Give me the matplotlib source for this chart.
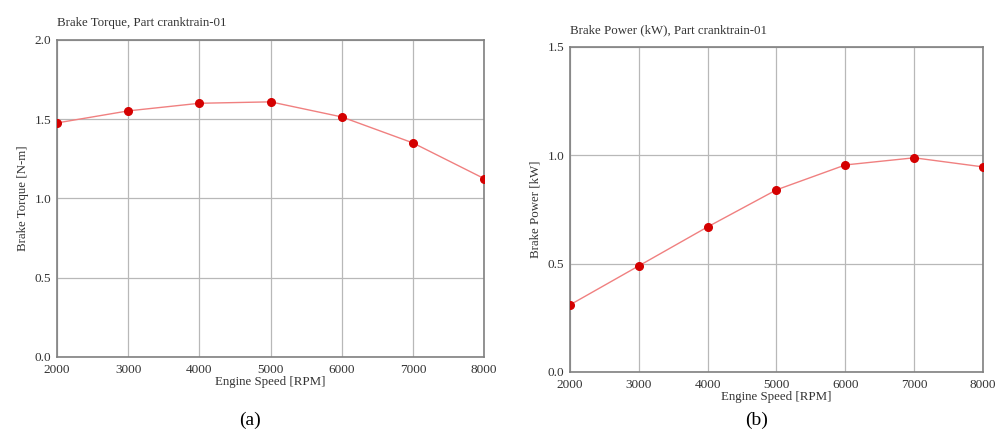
import matplotlib
matplotlib.use("Agg")
import matplotlib.pyplot as plt

plt.rcParams['font.family'] = ['Liberation Serif', 'DejaVu Serif']

# ----------------------------------- DATA ----------------------------------- #
rpm = [2000, 3000, 4000, 5000, 6000, 7000, 8000]
torque = [1.476, 1.552, 1.600, 1.609, 1.514, 1.350, 1.125]
power = [0.309, 0.489, 0.669, 0.840, 0.955, 0.988, 0.946]

torque_ticks = [0.0, 0.5, 1.0, 1.5, 2.0]
power_ticks = [0.0, 0.5, 1.0, 1.5]


def style_panel(ax, ydata, yticks, title, ylabel):
    ax.plot(rpm, ydata, color="#f08080", lw=1.0, zorder=3)
    ax.plot(rpm, ydata, "o", color="#d40000", ms=5.5, zorder=4)
    ax.set_xlim(2000, 8000)
    ax.set_ylim(yticks[0], yticks[-1])
    ax.set_xticks(rpm)
    ax.set_yticks(yticks)
    ax.set_yticklabels([f"{v:.1f}" for v in yticks])
    ax.grid(True, color="#b8b8b8", lw=0.9)
    for s in ax.spines.values():
        s.set_color("#808080")
        s.set_linewidth(1.2)
    ax.tick_params(length=0, labelsize=9.5, colors="#333333")
    ax.tick_params(axis="y", pad=4)
    ax.tick_params(axis="x", pad=5)
    ax.set_xlabel("Engine Speed [RPM]", fontsize=9.3, labelpad=0, color="#333333")
    ax.set_ylabel(ylabel, fontsize=9.3, color="#333333")
    ax.set_title(title, fontsize=9.3, loc="left", pad=10, color="#333333")


fig = plt.figure(figsize=(9.98, 4.38), dpi=100)

ax1 = fig.add_axes([0.0571, 0.185, 0.428, 0.724])
style_panel(ax1, torque, torque_ticks, "Brake Torque, Part cranktrain-01", "Brake Torque [N-m]")

ax2 = fig.add_axes([0.571, 0.151, 0.414, 0.742])
style_panel(ax2, power, power_ticks, "Brake Power (kW), Part cranktrain-01", "Brake Power [kW]")

fig.text(0.2505, 0.03, "(a)", ha="center", fontsize=14)
fig.text(0.758, 0.03, "(b)", ha="center", fontsize=14)

fig.savefig("out.png", dpi=100)
